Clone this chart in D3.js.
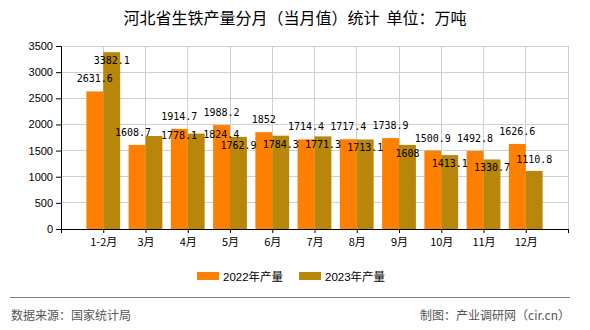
<!DOCTYPE html>
<html><head><meta charset="utf-8">
<script src="https://cdn.jsdelivr.net/npm/d3@7"></script>
<style>body{margin:0;background:#fff}svg{display:block}</style>
</head><body>
<script>
const categories = ["1-2月","3月","4月","5月","6月","7月","8月","9月","10月","11月","12月"];
const values2022 = [2631.6,1608.7,1914.7,1988.2,1852,1714.4,1717.4,1738.9,1500.9,1492.8,1626.6];
const values2023 = [3382.1,1778.1,1824.4,1762.9,1784.3,1771.3,1713.1,1608,1413.1,1330.7,1110.8];
const yTicks = [0,500,1000,1500,2000,2500,3000,3500];
const seriesNames = ["2022年产量","2023年产量"];
const colors = ["#FF8000","#B8860B"];
const title = "河北省生铁产量分月（当月值）统计  单位：万吨";
const sourceText = "数据来源：国家统计局";
const creditText = "制图：产业调研网（cir.cn）";

const W = 590, H = 330;
const svg = d3.select("body").append("svg").attr("width", W).attr("height", H);
const x = d3.scaleLinear().domain([0, categories.length + 1]).range([61, 568]);
const y = d3.scaleLinear().domain([0, 3500]).range([229, 46]);
const step = x(1) - x(0);
const bw = step * 0.4;

// grid
const g = svg.append("g");
g.selectAll("line.hg").data(yTicks).join("line")
  .attr("x1", x(0)).attr("x2", x(categories.length + 1))
  .attr("y1", d => y(d)).attr("y2", d => y(d))
  .attr("stroke", "#d0d0d0").attr("stroke-width", 1).attr("shape-rendering","crispEdges");
g.selectAll("line.vg").data(d3.range(1, categories.length + 2)).join("line")
  .attr("x1", d => x(d)).attr("x2", d => x(d))
  .attr("y1", y(0)).attr("y2", y(3500))
  .attr("stroke", "#d0d0d0").attr("stroke-width", 1).attr("shape-rendering","crispEdges");

// bars
const series = [values2022, values2023];
series.forEach((vals, s) => {
  svg.append("g").selectAll("rect").data(vals).join("rect")
    .attr("x", (d, i) => x(i + 1) - bw + s * bw)
    .attr("y", d => y(d))
    .attr("width", bw)
    .attr("height", d => y(0) - y(d))
    .attr("fill", colors[s]);
});

// axes
const yAxis = d3.axisLeft(y).tickValues(yTicks).tickSize(5).tickPadding(3).tickFormat(d3.format("d"));
const ya = svg.append("g").attr("transform", `translate(${x(0)},0)`).call(yAxis);
ya.select(".domain").attr("stroke", "#000");
ya.selectAll("text").attr("font-family", "Liberation Sans, Arial, sans-serif").attr("font-size", 11).attr("fill", "#000");

const xAxis = d3.axisBottom(x).tickValues(d3.range(0, categories.length + 2)).tickSize(4).tickSizeOuter(0)
  .tickFormat(d => (d >= 1 && d <= categories.length) ? categories[d - 1] : "");
const xa = svg.append("g").attr("transform", `translate(0,${y(0)})`).call(xAxis);
xa.select(".domain").attr("stroke", "#000");
xa.selectAll("text").attr("font-family", "Noto Sans CJK SC, sans-serif").attr("font-size", 11).attr("fill", "#000").attr("dy", "0.95em");

// value labels (layout nudges to avoid overlap, as in reference)
const nudge2022 = {1: [-4, 0]};
const nudge2023 = {1: [25, -9], 2: [25, -8], 10: [0, -20]};
const lblFont = "DejaVu Sans Mono, Liberation Mono, monospace";
svg.append("g").selectAll("text").data(values2022).join("text")
  .attr("x", (d, i) => x(i + 1) - bw / 2 + (nudge2022[i] ? nudge2022[i][0] : 0))
  .attr("y", (d, i) => y(d) - 9 + (nudge2022[i] ? nudge2022[i][1] : 0))
  .attr("text-anchor", "middle").attr("font-family", lblFont).attr("font-size", 10).attr("fill", "#000")
  .text(d => d);
svg.append("g").selectAll("text").data(values2023).join("text")
  .attr("x", (d, i) => x(i + 1) + bw / 2 + (nudge2023[i] ? nudge2023[i][0] : 0))
  .attr("y", (d, i) => y(d) + 12 + (nudge2023[i] ? nudge2023[i][1] : 0))
  .attr("text-anchor", "middle").attr("font-family", lblFont).attr("font-size", 10).attr("fill", "#000")
  .text(d => d);

// title
svg.append("text").attr("x", 295).attr("y", 24).attr("text-anchor", "middle")
  .attr("font-family", "Noto Sans CJK SC, sans-serif").attr("font-size", 16).attr("fill", "#000")
  .style("white-space", "pre").text(title);

// legend
const legendX = [197, 299];
seriesNames.forEach((n, s) => {
  svg.append("rect").attr("x", legendX[s]).attr("y", 272).attr("width", 22).attr("height", 8).attr("fill", colors[s]);
  svg.append("text").attr("x", legendX[s] + 26).attr("y", 280.5)
    .attr("font-family", "Liberation Sans, Noto Sans CJK SC, sans-serif").attr("font-size", 11.5).attr("fill", "#000").text(n);
});

// separator & footer
svg.append("line").attr("x1", 10).attr("x2", 570).attr("y1", 297.5).attr("y2", 297.5).attr("stroke", "#808080").attr("stroke-width", 1);
svg.append("text").attr("x", 11).attr("y", 320).attr("font-family", "Noto Sans CJK SC, sans-serif").attr("font-size", 12).attr("fill", "#555").text(sourceText);
svg.append("text").attr("x", 570).attr("y", 320).attr("text-anchor", "end").attr("font-family", "Noto Sans CJK SC, sans-serif").attr("font-size", 12).attr("fill", "#555").text(creditText);
</script>
</body></html>
